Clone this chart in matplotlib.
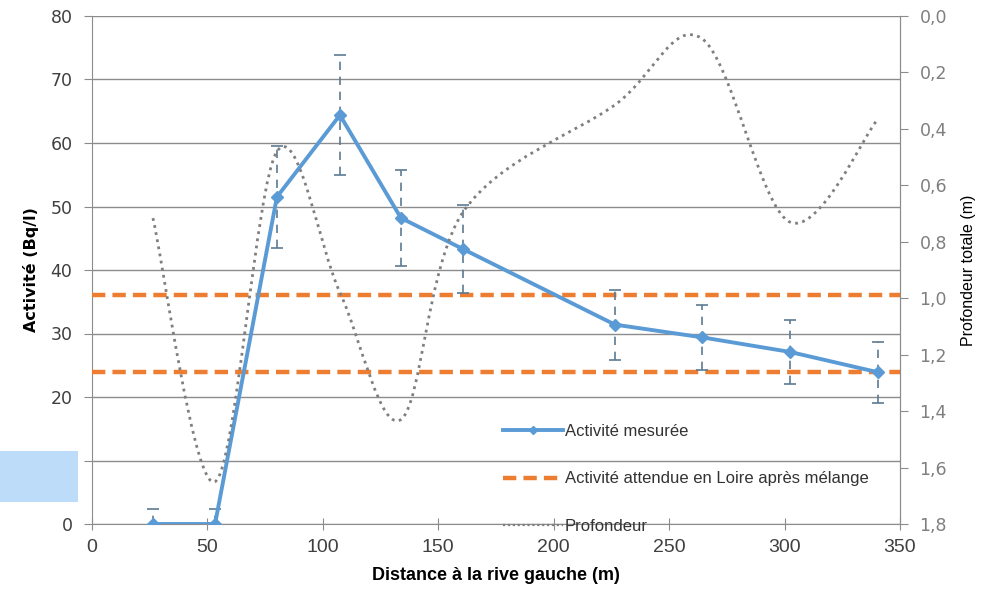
import matplotlib
matplotlib.use("Agg")
import matplotlib.pyplot as plt
import numpy as np
from matplotlib.path import Path
from matplotlib.patches import PathPatch, Rectangle
from matplotlib.lines import Line2D
from matplotlib.ticker import FuncFormatter

# distance from the left bank (m)
distance = [26.4, 53.3, 80.1, 107.4, 133.8, 160.7, 226.5, 264.2, 302.3, 340.4]
# measured activity (Bq/l) and its uncertainty
activity = [0.0, 0.0, 51.5, 64.4, 48.2, 43.3, 31.4, 29.4, 27.1, 23.9]
activity_err = [2.4, 2.3, 8.0, 9.5, 7.6, 7.0, 5.5, 5.1, 5.0, 4.8]
# total water depth (m)
depth = [0.716, 1.65, 0.48, 0.98, 1.43, 0.695, 0.315, 0.08, 0.73, 0.365]
# expected activity after mixing in the Loire (Bq/l)
expected_low = 24.0
expected_high = 36.0

blue = "#5B9BD5"
orange = "#ED7D31"
grid_col = "#8C8C8C"
sans = ["Liberation Sans", "DejaVu Sans"]

fig = plt.figure(figsize=(9.92, 6.03), dpi=100)
ax = fig.add_axes([92 / 992, 79 / 603, 808 / 992, 508 / 603])
ax2 = ax.twinx()

ax.set_xlim(0, 350)
ax.set_ylim(0, 80)
ax.set_xticks(np.arange(0, 351, 50))
ax.set_yticks(np.arange(0, 81, 10))
ax.yaxis.grid(True, color=grid_col, linewidth=1.0)
ax.set_axisbelow(True)

for side in ["left", "right", "bottom"]:
    ax.spines[side].set_color(grid_col)
ax.spines["top"].set_visible(False)
for side in ["left", "right", "bottom", "top"]:
    ax2.spines[side].set_visible(False)
ax2.spines["right"].set_visible(True)
ax2.spines["right"].set_color(grid_col)

ax.tick_params(axis="y", direction="out", length=6, color=grid_col,
               labelsize=12.5, labelcolor="#404040", pad=8)
ax.tick_params(axis="x", direction="inout", length=8, color=grid_col,
               labelsize=14, labelcolor="#404040", pad=7)
for lab in ax.get_xticklabels():
    lab.set_family(sans)

# expected activity band limits
ax.axhline(expected_high, color=orange, linestyle=(0, (3, 1.6)), linewidth=3.2, zorder=3)
ax.axhline(expected_low, color=orange, linestyle=(0, (3, 1.6)), linewidth=3.2, zorder=3)

# uncertainty bars
eb = ax.errorbar(distance, activity, yerr=activity_err, fmt="none",
                 ecolor="#5E7A92", elinewidth=1.2, capsize=4, capthick=1.2, zorder=4)
eb[2][0].set_linestyle((0, (5, 4)))

ax.plot(distance, activity, color=blue, linewidth=2.8, marker="D",
        markersize=6, markerfacecolor=blue, markeredgecolor=blue, zorder=5)

# depth profile, smoothed with cubic Bezier segments
pts = list(zip(distance, depth))
verts = [pts[0]]
codes = [Path.MOVETO]
n = len(pts)
for i in range(n - 1):
    p0 = np.array(pts[max(i - 1, 0)])
    p1 = np.array(pts[i])
    p2 = np.array(pts[i + 1])
    p3 = np.array(pts[min(i + 2, n - 1)])
    c1 = p1 + (p2 - p0) / 6.0
    c2 = p2 - (p3 - p1) / 6.0
    verts += [tuple(c1), tuple(c2), tuple(p2)]
    codes += [Path.CURVE4] * 3
ax2.add_patch(PathPatch(Path(verts, codes), facecolor="none", edgecolor="#7F7F7F",
                        linewidth=2.0, linestyle=(0, (1, 1.6)), zorder=2))

ax2.set_ylim(1.8, 0.0)
ax2.set_yticks(np.arange(0, 1.81, 0.2))
ax2.yaxis.set_major_formatter(FuncFormatter(lambda v, p: f"{v:.1f}".replace(".", ",")))
ax2.tick_params(axis="y", direction="out", length=6, color=grid_col,
                labelsize=12.5, labelcolor="#7F7F7F", pad=8)

ax.set_xlabel("Distance à la rive gauche (m)", fontsize=13, fontweight="bold",
              family=sans, labelpad=8)
ax.set_ylabel("Activité (Bq/l)", fontsize=11.5, fontweight="bold", labelpad=8)
ax2.set_ylabel("Profondeur totale (m)", fontsize=11.5, labelpad=10, family=sans)

handles = [
    Line2D([], [], color=blue, linewidth=2.8, marker="D", markersize=4),
    Line2D([], [], color=orange, linewidth=3.2, linestyle=(0, (3, 1.6))),
    Line2D([], [], color="#7F7F7F", linewidth=1.6, linestyle=(0, (1, 1.2))),
]
labels = ["Activité mesurée", "Activité attendue en Loire après mélange", "Profondeur"]
leg = ax2.legend(handles, labels, loc="upper left", bbox_to_anchor=(488 / 992, 1 - 409 / 603),
                 bbox_transform=fig.transFigure, frameon=False,
                 handlelength=3.6, handletextpad=0.12, labelspacing=1.95,
                 prop={"family": sans, "size": 12})
for t in leg.get_texts():
    t.set_color("#333333")

# light blue block at lower left
fig.patches.append(Rectangle((0, 101 / 603), 78 / 992, 51 / 603, transform=fig.transFigure,
                             facecolor="#BDDCFA", edgecolor="none", zorder=0))

fig.savefig("out.png", dpi=100)
